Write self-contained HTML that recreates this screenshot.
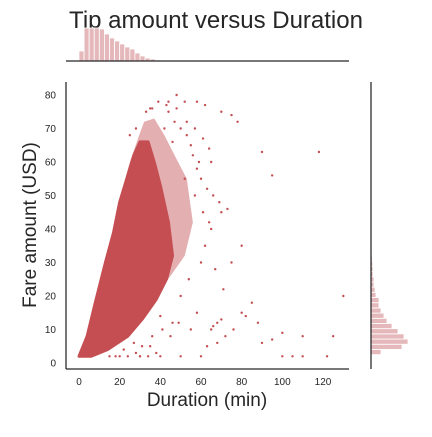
<!DOCTYPE html>
<html><head><meta charset="utf-8"><style>
html,body{margin:0;padding:0;background:#fff;}
text{font-family:"Liberation Sans",sans-serif;fill:#262626;}
</style></head><body>
<svg id="chart" width="432" height="432" viewBox="0 0 432 432" xmlns="http://www.w3.org/2000/svg">
<text x="216" y="28" font-size="24" text-anchor="middle">Tip amount versus Duration</text>
<g id="top"></g><g id="right"></g><g id="main"></g>
</svg>
<script>
const xTicks=[0,20,40,60,80,100,120];
const yTicks=[0,10,20,30,40,50,60,70,80];
const durBins=[0,2.5,5,7.5,10,12.5,15,17.5,20,22.5,25,27.5,30,32.5,35,37.5,40,42.5];
const durCounts=[10,33,33,33,32,27,23,20,17,14,12,8,5,3,2,1,0.5,0.3];
const fareBins=[2.5,4.05,5.6,7.15,8.7,10.25,11.8,13.35,14.9,16.45,18,19.55,21.1,22.65,24.2,25.75,27.3,28.85,30.4,31.95,33.5];
const fareCounts=[10,31,37,33,27,21,16,13,10,8,8,5,4,3,3,2,2,1.7,1.3,1,0.7];
const haloDur=[0,4,8,13,17,20,25,29,32,37,42,47,53,56,52,45,38,30,22,12,5];
const haloFare=[2,8,18,30,39,49,60,67,72,73,68,62,55,42,32,26,20,13,8,4,2];
const coreDur=[0,4,8,13,17,20,24,27,30,34,37,40,44,46,43,38,31,24,14,6];
const coreFare=[2,8,18,30,39,48,56,62,66,66,60,53,42,32,25,19,13,8,4,2];
const ptDur=[48,52,58,62,70,75,78,90,95,118,130,100,105,110,122,90,95,100,110,125,63,65,66,68,70,55,45,35,30,40,50,60,80,85,60,65,70,60,75,80,55,65,44,47,50,53,56,58,42,46,52,57,61,64,38,34,30,72,76,82,88,68,36,50,54,62,67,71,58,49,25,28,33,43,48,53,57,61,64,12,10,15,20,22,27,31,36,41,46,66,69,73,44,39,35,59,63,40,28,24,18];
const ptFare=[80,78,78,77,75,74,72,63,56,63,20,2,2,2,2,6,7,9,8,8,5,10,11,12,13,10,8,5,2,2,2,2,15,18,30,40,45,55,30,35,65,60,75,72,70,68,62,58,70,66,55,50,45,42,3,2,2,8,10,14,12,6,76,20,25,35,28,22,15,12,68,70,75,77,76,72,70,67,64,22,15,2,2,4,6,5,8,10,12,50,48,46,78,78,76,60,52,14,3,2,2];
const NS="http://www.w3.org/2000/svg";
const L=66,R=349,T=82,B=369;
const sx=v=>79+v*(323-79)/120, sy=v=>363-v*(363-95)/80;
function mk(tag,attrs,parent){const e=document.createElementNS(NS,tag);for(const k in attrs)e.setAttribute(k,attrs[k]);parent.appendChild(e);return e;}
const main=document.getElementById('main'),top_=document.getElementById('top'),right=document.getElementById('right');
const pathOf=(xs,ys)=>xs.map((v,i)=>(i?'L':'M')+sx(v)+','+sy(ys[i])).join(' ')+'Z';
const halo=mk('path',{d:pathOf(haloDur,haloFare),fill:'#c44e52','fill-opacity':0.45,stroke:'none'},main);


const poly=mk('path',{d:pathOf(coreDur,coreFare),fill:'#c44e52',stroke:'#c44e52','stroke-width':3,'stroke-linejoin':'round'},main);


ptDur.forEach((v,i)=>{const c=mk('circle',{cx:sx(v),cy:sy(ptFare[i]),r:1.2,fill:'#c44e52'},main);

});
const ya=mk('line',{x1:L,y1:T,x2:L,y2:B,stroke:'#262626','stroke-width':1.25},main);

const xa=mk('line',{x1:L,y1:B,x2:R,y2:B,stroke:'#262626','stroke-width':1.25},main);

xTicks.forEach(v=>{const t=mk('text',{x:sx(v),y:385,'font-size':10,'text-anchor':'middle'},main);t.textContent=v;
});
yTicks.forEach(v=>{const t=mk('text',{x:56,y:sy(v)+3.5,'font-size':10,'text-anchor':'end'},main);t.textContent=v;
});
const xl=mk('text',{x:207,y:406,'font-size':19,'text-anchor':'middle'},main);xl.textContent='Duration (min)';

const yl=mk('text',{x:0,y:0,'font-size':19,'text-anchor':'middle',transform:'translate(36,225) rotate(-90)'},main);yl.textContent='Fare amount (USD)';

const tb=61,hs=1;
durBins.forEach((b,i)=>{const x0=sx(b),x1=sx(b+2.5),h=durCounts[i]*hs;
const r=mk('rect',{x:x0,y:tb-h,width:x1-x0,height:h,fill:'#e5b9bb',stroke:'#fff','stroke-width':0.8},top_);
});
const tl=mk('line',{x1:L,y1:tb,x2:R,y2:tb,stroke:'#262626','stroke-width':1.25},top_);

const rl0=371;
fareBins.forEach((b,i)=>{const y0=sy(b+1.55),y1=sy(b),w=fareCounts[i];
const r=mk('rect',{x:rl0,y:y0,width:w,height:y1-y0,fill:'#e5b9bb',stroke:'#fff','stroke-width':0.8},right);
});
const rl=mk('line',{x1:rl0,y1:T,x2:rl0,y2:B,stroke:'#262626','stroke-width':1.25},right);

</script>
</body></html>
